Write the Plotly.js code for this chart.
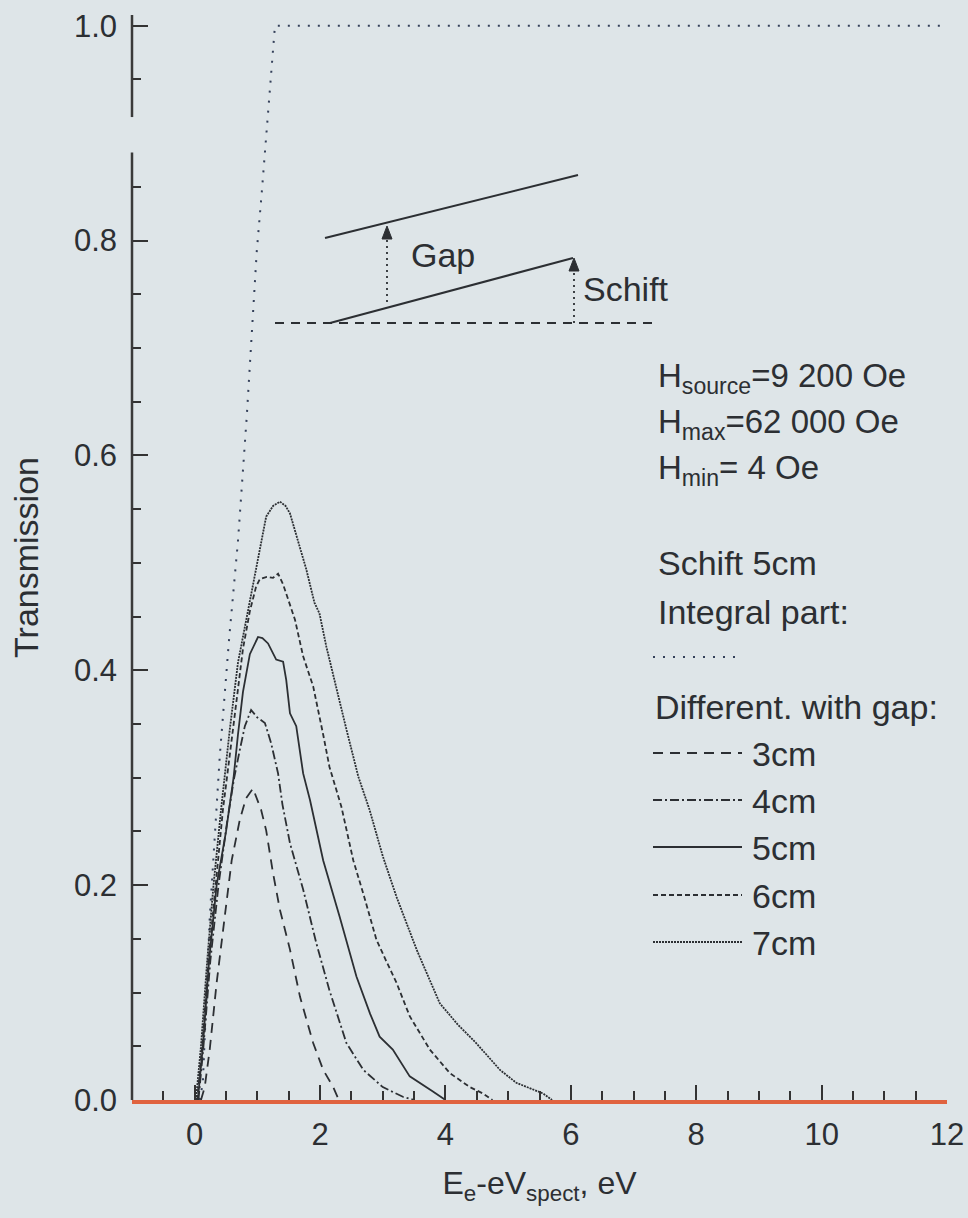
<!DOCTYPE html>
<html>
<head>
<meta charset="utf-8">
<script src="https://cdn.plot.ly/plotly-3.0.1.min.js"></script>
<style>html,body{margin:0;padding:0;background:#dee5e8;}</style>
</head>
<body>
<div id="chart" style="width:968px;height:1218px;"></div>
<script>
// ---------------- data ----------------
const integralX = [0.08, 0.13, 0.24, 0.40, 0.55, 0.69, 0.83, 0.99, 1.07, 1.18, 1.28, 12];
const integralY = [0.0, 0.016, 0.17, 0.32, 0.43, 0.52, 0.636, 0.79, 0.845, 0.93, 1.0, 1.0];

const gap3X = [0.10, 0.16, 0.24, 0.35, 0.48, 0.59, 0.72, 0.82, 0.93, 1.06, 1.14, 1.25, 1.36, 1.52, 1.68, 1.89, 2.05, 2.21, 2.30];
const gap3Y = [0.0, 0.012, 0.047, 0.109, 0.171, 0.223, 0.261, 0.281, 0.290, 0.270, 0.251, 0.211, 0.177, 0.140, 0.096, 0.053, 0.028, 0.012, 0.0];

const gap4X = [0.06, 0.14, 0.25, 0.38, 0.52, 0.63, 0.72, 0.80, 0.90, 1.00, 1.12, 1.22, 1.33, 1.40, 1.52, 1.73, 1.94, 2.15, 2.42, 2.69, 3.00, 3.32, 3.50];
const gap4Y = [0.0, 0.05, 0.13, 0.20, 0.26, 0.30, 0.326, 0.348, 0.363, 0.356, 0.351, 0.332, 0.304, 0.275, 0.239, 0.196, 0.146, 0.102, 0.053, 0.028, 0.012, 0.003, 0.0];

const gap5X = [0.05, 0.13, 0.23, 0.35, 0.50, 0.62, 0.69, 0.77, 0.88, 1.01, 1.08, 1.17, 1.30, 1.41, 1.46, 1.52, 1.62, 1.73, 1.84, 2.05, 2.31, 2.58, 2.80, 2.95, 3.16, 3.43, 3.80, 4.00];
const gap5Y = [0.0, 0.05, 0.13, 0.20, 0.25, 0.30, 0.34, 0.38, 0.415, 0.431, 0.430, 0.425, 0.410, 0.408, 0.391, 0.360, 0.348, 0.304, 0.279, 0.223, 0.171, 0.115, 0.080, 0.059, 0.047, 0.022, 0.008, 0.0];

const gap6X = [0.04, 0.12, 0.22, 0.33, 0.45, 0.60, 0.77, 0.88, 0.98, 1.04, 1.15, 1.25, 1.33, 1.41, 1.49, 1.60, 1.73, 1.89, 2.05, 2.15, 2.34, 2.53, 2.70, 2.90, 3.05, 3.22, 3.43, 3.75, 4.07, 4.39, 4.60, 4.75];
const gap6Y = [0.0, 0.05, 0.13, 0.20, 0.27, 0.34, 0.42, 0.455, 0.478, 0.485, 0.487, 0.486, 0.490, 0.480, 0.466, 0.447, 0.413, 0.385, 0.340, 0.310, 0.273, 0.223, 0.190, 0.149, 0.130, 0.109, 0.078, 0.047, 0.025, 0.012, 0.006, 0.0];

const gap7X = [0.02, 0.10, 0.20, 0.30, 0.42, 0.56, 0.69, 0.80, 0.90, 1.04, 1.14, 1.25, 1.36, 1.45, 1.52, 1.60, 1.68, 1.78, 1.91, 1.99, 2.10, 2.26, 2.42, 2.61, 2.79, 3.00, 3.22, 3.54, 3.91, 4.20, 4.49, 4.87, 5.13, 5.56, 5.70];
const gap7Y = [0.0, 0.05, 0.13, 0.20, 0.27, 0.345, 0.407, 0.44, 0.47, 0.515, 0.543, 0.553, 0.557, 0.553, 0.546, 0.530, 0.515, 0.494, 0.463, 0.453, 0.422, 0.382, 0.345, 0.301, 0.270, 0.227, 0.189, 0.140, 0.090, 0.070, 0.053, 0.028, 0.016, 0.006, 0.0];

const xTickVals = [0, 2, 4, 6, 8, 10, 12];
const yTickVals = [0, 0.2, 0.4, 0.6, 0.8, 1.0];
const yMinorVals = [0.05, 0.1, 0.15, 0.25, 0.3, 0.35, 0.45, 0.5, 0.55, 0.65, 0.7, 0.75, 0.85, 0.95];

const gapLabels = ['3cm', '4cm', '5cm', '6cm', '7cm'];
const infoLines = ['H<sub>source</sub>=9 200 Oe', 'H<sub>max</sub>=62 000 Oe', 'H<sub>min</sub>= 4 Oe'];

// ---------------- styling ----------------
const INK = '#2c2f33';
const FONT = 'Liberation Sans, Arial, Helvetica, sans-serif';
const dashes = ['10px,7px', '9px,3px,2px,3px', 'solid', '5px,3px', '2px,1px'];
const integralDash = '2px,8px';

// pixel -> data helpers for decorations (plot area: x -1..12 at 132..947, y 0..1.01 at 1100..15)
const X = px => -1 + (px - 132) * 13 / 815;
const Y = py => (1100 - py) * 1.01 / 1085;

const series = [[gap3X, gap3Y], [gap4X, gap4Y], [gap5X, gap5Y], [gap6X, gap6Y], [gap7X, gap7Y]];

const traces = [{
  x: integralX, y: integralY, mode: 'lines', name: 'Integral part',
  line: {color: '#34405a', width: 2, dash: integralDash}, showlegend: false
}];
series.forEach((s, i) => traces.push({
  x: s[0], y: s[1], mode: 'lines', name: gapLabels[i],
  line: {color: INK, width: 1.8, dash: dashes[i]}, showlegend: false
}));

const shapes = [];
const annotations = [];

// broken y axis line
shapes.push({type: 'line', xref: 'paper', yref: 'paper', x0: 0, x1: 0, y0: 0, y1: 0.882 / 1.01, line: {color: '#3a3a3a', width: 2.5}});
shapes.push({type: 'line', xref: 'paper', yref: 'paper', x0: 0, x1: 0, y0: 0.915 / 1.01, y1: 1.0, line: {color: '#3a3a3a', width: 2.5}});

// inset diagram
const arrowHead = (px, py) => 'M ' + X(px) + ' ' + Y(py) + ' L ' + X(px - 5) + ' ' + Y(py + 13) + ' L ' + X(px + 5) + ' ' + Y(py + 13) + ' Z';
shapes.push({type: 'line', x0: X(325), y0: Y(238), x1: X(578), y1: Y(175), line: {color: INK, width: 2}});
shapes.push({type: 'line', x0: X(330), y0: Y(323), x1: X(573), y1: Y(258), line: {color: INK, width: 2}});
shapes.push({type: 'line', x0: X(275), y0: Y(323), x1: X(656), y1: Y(323), line: {color: INK, width: 1.8, dash: '9px,7px'}});
shapes.push({type: 'line', x0: X(387), y0: Y(302), x1: X(387), y1: Y(238), line: {color: INK, width: 1.8, dash: '2px,4px'}});
shapes.push({type: 'line', x0: X(574), y0: Y(323), x1: X(574), y1: Y(270), line: {color: INK, width: 1.8, dash: '2px,4px'}});
shapes.push({type: 'path', path: arrowHead(387, 226), fillcolor: INK, line: {color: INK, width: 1}});
shapes.push({type: 'path', path: arrowHead(574, 258), fillcolor: INK, line: {color: INK, width: 1}});
annotations.push({x: X(409), y: Y(255), text: 'Gap', showarrow: false, xanchor: 'left', yanchor: 'middle', font: {size: 34, color: INK, family: FONT}});
annotations.push({x: X(581), y: Y(289), text: 'Schift', showarrow: false, xanchor: 'left', yanchor: 'middle', font: {size: 34, color: INK, family: FONT}});

// info text block
const infoY = [378, 424, 470];
infoLines.forEach((t, i) => annotations.push({x: X(656), y: Y(infoY[i]), text: t, showarrow: false, xanchor: 'left', yanchor: 'middle', font: {size: 33, color: INK, family: FONT}}));
annotations.push({x: X(656), y: Y(563), text: 'Schift 5cm', showarrow: false, xanchor: 'left', yanchor: 'middle', font: {size: 34, color: INK, family: FONT}});
annotations.push({x: X(656), y: Y(612), text: 'Integral part:', showarrow: false, xanchor: 'left', yanchor: 'middle', font: {size: 34, color: INK, family: FONT}});
shapes.push({type: 'line', x0: X(653), y0: Y(657), x1: X(738), y1: Y(657), line: {color: '#34405a', width: 2, dash: integralDash}});
annotations.push({x: X(653), y: Y(707), text: 'Different. with gap:', showarrow: false, xanchor: 'left', yanchor: 'middle', font: {size: 34, color: INK, family: FONT}});

const rowY = [753, 800, 847, 895, 942];
gapLabels.forEach((lab, i) => {
  shapes.push({type: 'line', x0: X(653), y0: Y(rowY[i]), x1: X(742), y1: Y(rowY[i]), line: {color: INK, width: 1.8, dash: dashes[i]}});
  annotations.push({x: X(750), y: Y(rowY[i] + 1), text: lab, showarrow: false, xanchor: 'left', yanchor: 'middle', font: {size: 34, color: INK, family: FONT}});
});

const layout = {
  width: 968, height: 1218,
  margin: {l: 132, r: 21, t: 15, b: 118},
  paper_bgcolor: '#dee5e8', plot_bgcolor: '#dee5e8',
  showlegend: false,
  font: {family: FONT, color: INK},
  xaxis: {
    range: [-1, 12], showgrid: false, zeroline: false,
    showline: true, linecolor: '#e0633f', linewidth: 3.5,
    ticks: 'inside', ticklen: 15, tickwidth: 2, tickcolor: '#333',
    tickmode: 'array', tickvals: xTickVals, ticktext: xTickVals.map(String),
    minor: {dtick: 0.5, tick0: 0, ticks: 'inside', ticklen: 9, tickwidth: 2, tickcolor: '#333'},
    tickfont: {size: 31, color: INK, family: FONT},
    ticklabelstandoff: 4,
    title: {text: 'E<sub>e</sub>-eV<sub>spect</sub>, eV', font: {size: 32, color: INK, family: FONT}, standoff: 22}
  },
  yaxis: {
    range: [0, 1.01], showgrid: false, zeroline: false, showline: false,
    ticks: 'inside', ticklen: 16, tickwidth: 2, tickcolor: '#333',
    tickmode: 'array', tickvals: yTickVals, ticktext: yTickVals.map(v => v.toFixed(1)),
    minor: {tickmode: 'array', tickvals: yMinorVals, ticks: 'inside', ticklen: 9, tickwidth: 2, tickcolor: '#333'},
    tickfont: {size: 31, color: INK, family: FONT},
    ticklabelstandoff: 14,
    title: {text: 'Transmission', font: {size: 34, color: INK, family: FONT}, standoff: 24}
  },
  shapes: shapes,
  annotations: annotations
};

Plotly.newPlot('chart', traces, layout, {displayModeBar: false, staticPlot: true});
</script>
</body>
</html>
